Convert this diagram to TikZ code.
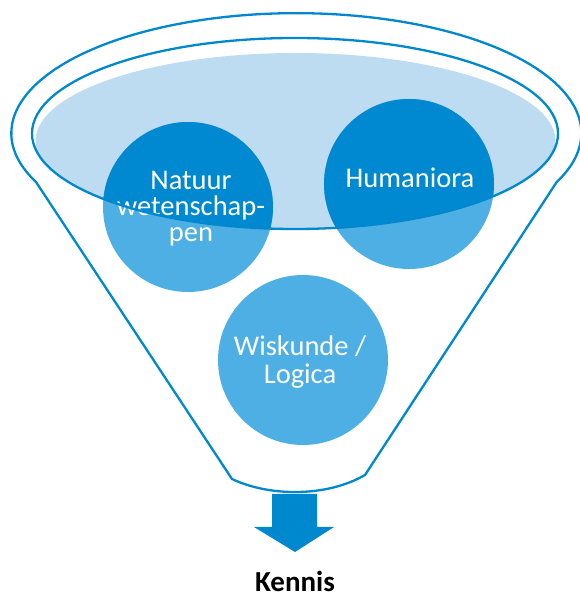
\documentclass[tikz,border=0pt]{standalone}
\usepackage{fontspec}
\setmainfont{Carlito}
\definecolor{funnelblue}{HTML}{0088CE}
\definecolor{darkdisc}{HTML}{0089D1}
\definecolor{lightdisc}{HTML}{4DAFE3}
\definecolor{surface}{HTML}{BDDCF2}
\tikzset{
  outline/.style={draw=funnelblue, line width=2.3pt, line join=round},
  disc/.style={circle, minimum size=170pt, inner sep=0pt, fill=lightdisc},
  disclabel/.style={text=white, align=center, font=\fontsize{28.5}{26}\selectfont},
}
\begin{document}
\begin{tikzpicture}[x=1pt, y=1pt]
  \useasboundingbox (0,0) rectangle (579,595);

  % liquid surface inside the rim
  \begin{scope}
    \clip (295,461.5) ellipse [x radius=263, y radius=95.5];
    \fill[surface] (295.5,454) ellipse [x radius=260, y radius=88];
  \end{scope}

  % the three subject discs
  \node[disc] (nat) at (188,388) {};
  \node[disc] (hum) at (409,411) {};
  \node[disc] (wis) at (303,235) {};

  % the parts of the discs below the surface are darker
  \begin{scope}
    \clip (295,461.5) ellipse [x radius=263, y radius=95.5];
    \fill[darkdisc] (nat.center) circle (85);
    \fill[darkdisc] (hum.center) circle (85);
    \fill[darkdisc] (wis.center) circle (85);
  \end{scope}

  % labels
  \node[disclabel] (natlabel) at (191,386) {Natuur\\wetenschap-\\pen};
  \node[disclabel, anchor=base] (humlabel) at (410,407) {Humaniora};
  \node[disclabel, font=\fontsize{28.5}{28}\selectfont] (wislabel) at (300,233) {Wiskunde /\\Logica};

  % inner rim
  \draw[outline] (295,461.5) ellipse [x radius=263, y radius=95.5];

  % funnel body: outer rim, sloping sides and rounded spout
  \draw[outline] (232,116) -- (36,413)
    arc[start angle=204, end angle=-24, x radius=285, y radius=120]
    -- (365,120) .. controls (327,98) and (270,98) .. cycle;

  % outflow arrow
  \fill[funnelblue] (272,101) -- (317,101) -- (317,68) -- (334,68)
    -- (295,43) -- (254,68) -- (272,68) -- cycle;

  \node[font=\fontsize{29}{30}\selectfont\bfseries, anchor=base, inner sep=0pt] (kennis) at (295,4) {Kennis};
\end{tikzpicture}
\end{document}
